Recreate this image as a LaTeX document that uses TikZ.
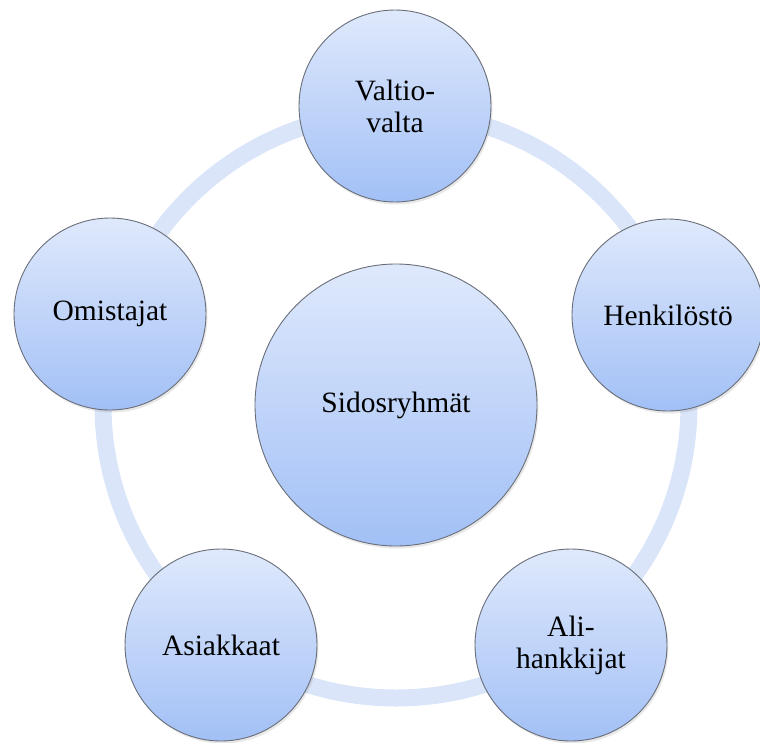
\documentclass[tikz,border=0pt]{standalone}
\usepackage{fontspec}
\setmainfont{Liberation Serif}
\usepackage{tikz}
\usetikzlibrary{shadows,backgrounds}

\definecolor{bubtop}{RGB}{223,233,252}
\definecolor{bubbot}{RGB}{162,192,246}
\definecolor{ringblue}{RGB}{218,229,249}
\definecolor{rimgray}{RGB}{105,110,120}

\begin{document}
\begin{tikzpicture}[
    x=1pt, y=-1pt,
    font=\fontsize{29.5}{32}\selectfont,
    bubble/.style={circle, draw=rimgray, line width=0.9pt, top color=bubtop, bottom color=bubbot,
      minimum size=192pt, inner sep=0pt, align=center,
      drop shadow={opacity=0.18, shadow xshift=1.5pt, shadow yshift=-2.5pt}},
    ring/.style={draw=ringblue, line width=17pt}
  ]
    \useasboundingbox (0,0) rectangle (760,742);
    \node[bubble, minimum size=282pt] (hub) at (396,405) {Sidosryhmät};
    \node[bubble] (valtio) at (395,106) {Valtio-\\valta};
    \node[bubble] (henk) at (668,315) {Henkilöstö};
    \node[bubble] (ali) at (571,645) {Ali-\\hankkijat};
    \node[bubble] (asiak) at (221,645) {Asiakkaat};
    \node[bubble] (omist) at (110,314) {Omistajat};
    \begin{scope}[on background layer]
      \draw[ring] (hub.center) circle[radius=293pt];
    \end{scope}
\end{tikzpicture}
\end{document}
